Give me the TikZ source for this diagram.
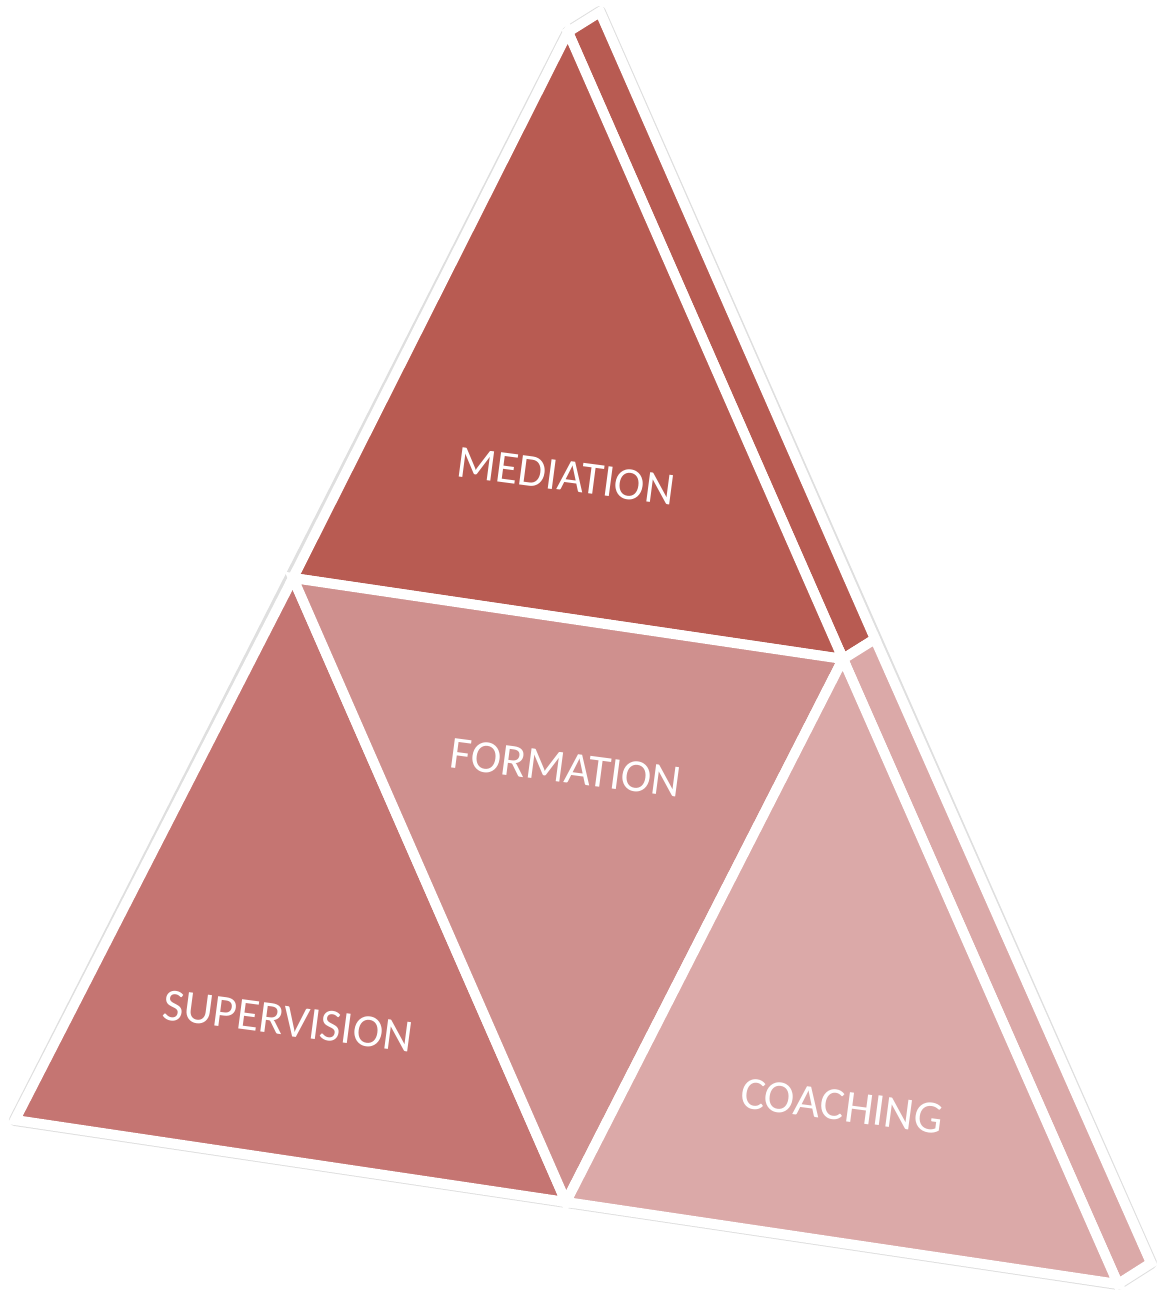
\documentclass[tikz,border=0pt]{standalone}
\usepackage{fontspec}
\setmainfont{Carlito}
\usetikzlibrary{positioning,calc}
\definecolor{medcol}{RGB}{184,91,82}
\definecolor{supcol}{RGB}{197,117,114}
\definecolor{forcol}{RGB}{207,144,142}
\definecolor{coacol}{RGB}{219,169,168}

\begin{document}
\begin{tikzpicture}[x=0.5pt,y=-0.5pt,
            face/.style={draw=white, line width=5pt, line join=miter},
            label/.style={text=white, font=\fontsize{23}{25}\selectfont, rotate=-7.5, inner sep=0pt}]
            \useasboundingbox (0,0) rectangle (1161,1290);
            % corners of the pyramid
            \coordinate (top) at (568,32);
            \coordinate (ml) at (293,578);
            \coordinate (mr) at (843,659);
            \coordinate (bl) at (15,1120);
            \coordinate (bm) at (566,1202);
            \coordinate (br) at (1118,1284);
            \coordinate (topb) at ($(top)+(32,-20)$);
            \coordinate (mrb) at ($(mr)+(32,-20)$);
            \coordinate (brb) at ($(br)+(33,-21)$);
            % faint outline
            \draw[gray!25, line width=6pt, line join=round] (bl) -- (top) -- (topb) -- (brb) -- (br) -- cycle;
            % side faces
            \filldraw[face, fill=medcol] (top) -- (topb) -- (mrb) -- (mr) -- cycle;
            \filldraw[face, fill=coacol] (mr) -- (mrb) -- (brb) -- (br) -- cycle;
            % front faces
            \filldraw[face, fill=medcol] (top) -- (ml) -- (mr) -- cycle;
            \filldraw[face, fill=supcol] (ml) -- (bl) -- (bm) -- cycle;
            \filldraw[face, fill=forcol] (ml) -- (mr) -- (bm) -- cycle;
            \filldraw[face, fill=coacol] (mr) -- (bm) -- (br) -- cycle;
            % labels
            \node[label] (med) at (566,476) {MEDIATION};
            \node[label] (for) at (566,768) {FORMATION};
            \node[label] (sup) at (288,1021) {SUPERVISION};
            \node[label] (coa) at (842,1106) {COACHING};
\end{tikzpicture}
\end{document}
